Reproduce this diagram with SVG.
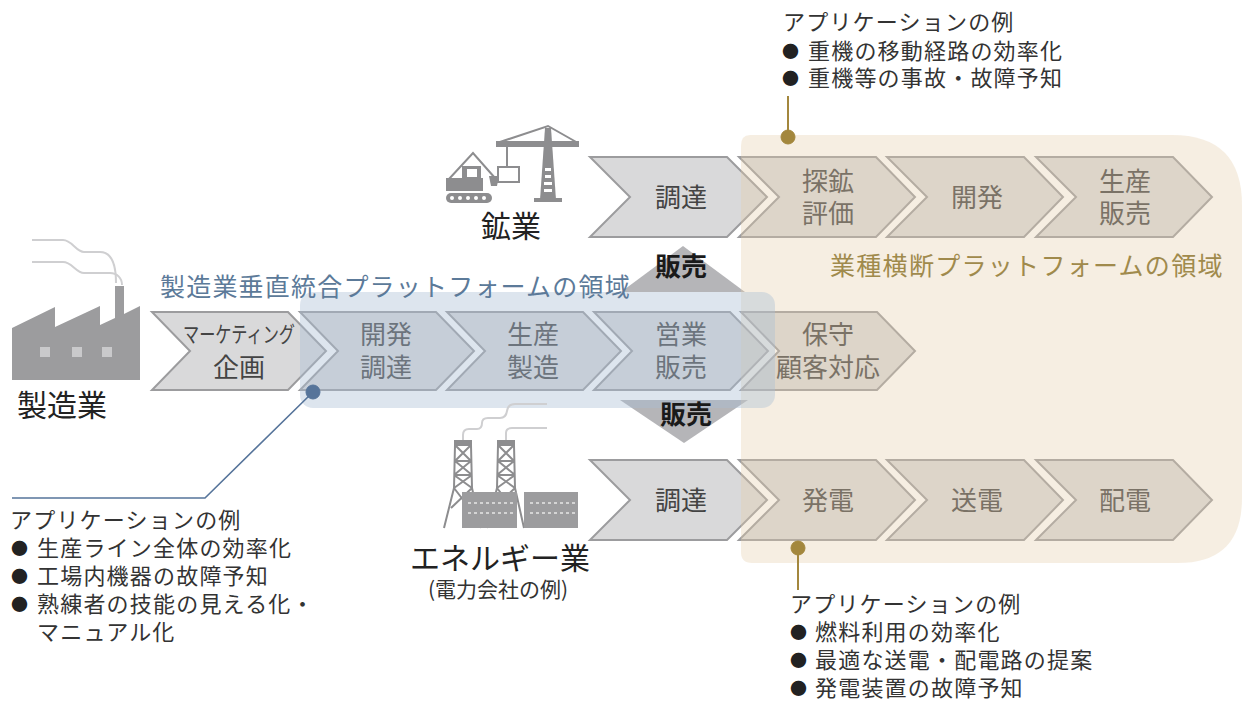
<svg xmlns="http://www.w3.org/2000/svg" width="1242" height="702" viewBox="0 0 1242 702">
  <style>
    text { font-family: "Noto Sans CJK JP", "Noto Sans", sans-serif; }
    .chev { fill: #d9d9da; stroke: #9c9c9e; stroke-width: 2; stroke-linejoin: miter; }
    .lbl { font-size: 26px; fill: #444; text-anchor: middle; }
    .ind { font-size: 30px; fill: #222; }
    .ann { font-size: 22px; fill: #333; letter-spacing: 1.2px; }
    .dot { font-size: 17px; fill: #222; }
    .sale { font-size: 26px; font-weight: 700; fill: #1a1a1a; text-anchor: middle; }
    .tri { fill: #b5b5b8; }
    .icon { fill: #8d8d8f; }
    .iconline { fill: none; stroke: #8d8d8f; stroke-width: 2; }
    .smoke { fill: none; stroke: #cfcfd1; stroke-width: 2; }
    .gold { stroke: #a3873d; fill: #a3873d; }
    .blue { stroke: #56749a; fill: #56749a; }
  </style>

  <!-- 販売 arrows between the middle value chain and the other industries -->
  <g id="sale-up">
    <polygon class="tri" points="683,246 745,292 621,292"/>
  </g>
  <g id="sale-down">
    <polygon class="tri" points="620,400 748,400 684,443"/>
  </g>

  <!-- mining value chain -->
  <g id="mine-1"><polygon class="chev" points="590,157 727,157 767,197 727,237 590,237 630,197"/><text class="lbl" x="681" y="207">調達</text></g>
  <g id="mine-2"><polygon class="chev" points="739,157 876,157 915,197 876,237 739,237 779,197"/><text class="lbl" x="828" y="191">探鉱</text><text class="lbl" x="828" y="223">評価</text></g>
  <g id="mine-3"><polygon class="chev" points="887,157 1024,157 1063,197 1024,237 887,237 927,197"/><text class="lbl" x="977" y="207">開発</text></g>
  <g id="mine-4"><polygon class="chev" points="1036,157 1173,157 1212,197 1173,237 1036,237 1076,197"/><text class="lbl" x="1125" y="191">生産</text><text class="lbl" x="1125" y="223">販売</text></g>

  <!-- manufacturing value chain -->
  <g id="mfg-1"><polygon class="chev" points="152,312 288,312 326,351 288,390 152,390 190,351"/>
    <text class="lbl" x="239" y="342" textLength="112" lengthAdjust="spacingAndGlyphs" style="font-size:22px">マーケティング</text>
    <text class="lbl" x="239" y="377">企画</text></g>
  <g id="mfg-2"><polygon class="chev" points="300,312 436,312 474,351 436,390 300,390 338,351"/><text class="lbl" x="386" y="344">開発</text><text class="lbl" x="386" y="377">調達</text></g>
  <g id="mfg-3"><polygon class="chev" points="447,312 583,312 621,351 583,390 447,390 485,351"/><text class="lbl" x="533" y="344">生産</text><text class="lbl" x="533" y="377">製造</text></g>
  <g id="mfg-4"><polygon class="chev" points="594,312 730,312 768,351 730,390 594,390 632,351"/><text class="lbl" x="681" y="344">営業</text><text class="lbl" x="681" y="377">販売</text></g>
  <g id="mfg-5"><polygon class="chev" points="741,312 877,312 915,351 877,390 741,390 779,351"/><text class="lbl" x="828" y="344">保守</text><text class="lbl" x="828" y="377">顧客対応</text></g>

  <!-- energy value chain -->
  <g id="energy-1"><polygon class="chev" points="590,460 727,460 767,500 727,540 590,540 630,500"/><text class="lbl" x="681" y="510">調達</text></g>
  <g id="energy-2"><polygon class="chev" points="739,460 876,460 915,500 876,540 739,540 779,500"/><text class="lbl" x="828" y="510">発電</text></g>
  <g id="energy-3"><polygon class="chev" points="887,460 1024,460 1063,500 1024,540 887,540 927,500"/><text class="lbl" x="977" y="510">送電</text></g>
  <g id="energy-4"><polygon class="chev" points="1036,460 1173,460 1212,500 1173,540 1036,540 1076,500"/><text class="lbl" x="1125" y="510">配電</text></g>

  <!-- cross-industry platform area (translucent) -->
  <g id="cross-industry-area">
    <path d="M750,135 H1172 Q1242,135 1242,205 V498 Q1242,563 1178,563 H752 Q741,563 741,552 V146 Q741,135 750,135 Z" fill="rgb(228,205,170)" fill-opacity="0.34"/>
    <text x="830" y="275" style="font-size:25px; fill:#a08a4c; letter-spacing:1.3px">業種横断プラットフォームの領域</text>
  </g>

  <!-- manufacturing vertical platform area (translucent) -->
  <g id="vertical-area">
    <rect x="300" y="292" width="475" height="116" rx="13" fill="rgb(170,190,212)" fill-opacity="0.4"/>
    <text x="160" y="296" style="font-size:25px; fill:#5c7a99; letter-spacing:1.2px">製造業垂直統合プラットフォームの領域</text>
  </g>

  <g id="sale-labels">
    <text class="sale" x="681" y="276">販売</text>
    <text class="sale" x="686" y="424">販売</text>
  </g>

  <!-- mining icon -->
  <g id="mining">
    <!-- crane -->
    <polygon class="icon" points="540,200 556,200 551,128 545,128"/>
    <rect x="545" y="168" width="6" height="3" fill="#fff"/>
    <rect x="545" y="175" width="6" height="3" fill="#fff"/>
    <rect x="544" y="182" width="8" height="3" fill="#fff"/>
    <rect x="544" y="189" width="8" height="3" fill="#fff"/>
    <rect x="534" y="198" width="28" height="4" class="icon"/>
    <path d="M497,143 L548,126 L578,143" class="iconline" stroke-width="3"/>
    <rect x="496" y="141" width="83" height="6" class="icon"/>
    <line x1="507" y1="147" x2="507" y2="167" class="iconline"/>
    <rect x="498" y="167" width="21" height="15" fill="#fff" class="iconline" stroke-width="3"/>
    <!-- excavator -->
    <path d="M449,179 L473,153 L495,178" class="iconline" stroke-width="3.5"/>
    <path d="M489,176 H499 L497,186 H491 Z" class="icon"/>
    <rect x="446" y="178" width="37" height="13" class="icon"/>
    <rect x="462" y="166" width="19" height="13" class="icon"/>
    <rect x="467" y="169" width="10" height="8" fill="#fff"/>
    <rect x="446" y="193" width="46" height="10" rx="5" class="icon"/>
    <g fill="#fff"><circle cx="452" cy="198" r="2"/><circle cx="460" cy="198" r="2"/><circle cx="468" cy="198" r="2"/><circle cx="476" cy="198" r="2"/><circle cx="484" cy="198" r="2"/></g>
    <text class="ind" x="511" y="237" text-anchor="middle">鉱業</text>
  </g>

  <!-- factory icon -->
  <g id="manufacturing">
    <path class="smoke" d="M32,240 H63 C72,240 76,252 84,252 H100 C110,252 116,262 116,283"/>
    <path class="smoke" d="M32,262 H63 C72,262 76,273 84,273 H110 C117,273 122,278 122,285"/>
    <path d="M12,328 L55,307 V327 L100,306 V325 L115,318 V286 H124 V314 L140,306 V380 H12 Z" fill="#9c9c9e"/>
    <g fill="#c9c9cb"><rect x="40" y="347" width="10" height="10"/><rect x="72" y="347" width="10" height="10"/><rect x="102" y="347" width="10" height="10"/></g>
    <text class="ind" x="17" y="416">製造業</text>
  </g>

  <!-- power plant icon -->
  <g id="energy">
    <path class="smoke" d="M463,441 V435 Q463,429 469,429 H477 Q482,429 482,423 Q482,418 488,418 H500 Q506,418 507,411 Q508,404 515,404 H547"/>
    <path class="smoke" d="M506,441 V433 Q506,428 512,428 H547"/>
    <g class="iconline" transform="translate(463,0)">
      <rect x="-8" y="441" width="16" height="4" fill="#8d8d8f"/>
      <path d="M-8,445 L-9,488 M8,445 L9,488 M-8,461 H8 M-9,475 H9 M-8,445 L8,461 M8,445 L-8,461 M-8,461 L9,475 M8,461 L-9,475 M-9,475 L9,488 M9,475 L-9,488 M-9,488 L-19,528 M9,488 L18,528 M-9,488 L8,510 M9,488 L-12,508"/>
    </g>
    <g class="iconline" transform="translate(506,0)">
      <rect x="-8" y="441" width="16" height="4" fill="#8d8d8f"/>
      <path d="M-8,445 L-9,488 M8,445 L9,488 M-8,461 H8 M-9,475 H9 M-8,445 L8,461 M8,445 L-8,461 M-8,461 L9,475 M8,461 L-9,475 M-9,475 L9,488 M9,475 L-9,488 M-9,488 L-19,528 M9,488 L18,528 M-9,488 L8,510 M9,488 L-12,508"/>
    </g>
    <rect x="462" y="492" width="55" height="36" fill="#9c9c9e"/>
    <rect x="524" y="492" width="54" height="36" fill="#9c9c9e"/>
    <g stroke="#e6e6e6" stroke-width="1.5" stroke-dasharray="3,3">
      <line x1="468" y1="503" x2="514" y2="503"/><line x1="468" y1="513" x2="514" y2="513"/>
      <line x1="530" y1="503" x2="576" y2="503"/><line x1="530" y1="513" x2="576" y2="513"/>
    </g>
    <text class="ind" x="500" y="569" text-anchor="middle">エネルギー業</text>
    <text x="498" y="597" text-anchor="middle" style="font-size:21px; fill:#333">(電力会社の例)</text>
  </g>

  <!-- callout leaders -->
  <g id="connectors">
    <path d="M313,392 L205,498 H12" fill="none" stroke="#56749a" stroke-width="1.6"/>
    <circle cx="313" cy="392" r="7" class="blue"/>
    <line x1="788" y1="96" x2="788" y2="137" stroke="#a3873d" stroke-width="2"/>
    <circle cx="788" cy="137" r="7" class="gold"/>
    <line x1="798" y1="548" x2="798" y2="590" stroke="#a3873d" stroke-width="2"/>
    <circle cx="798" cy="548" r="7" class="gold"/>
  </g>

  <!-- application examples -->
  <g id="apps-mining">
    <text class="ann" x="783" y="30">アプリケーションの例</text>
    <text class="dot" x="782" y="58">●</text><text class="ann" x="808" y="59">重機の移動経路の効率化</text>
    <text class="dot" x="782" y="85">●</text><text class="ann" x="808" y="86">重機等の事故・故障予知</text>
  </g>
  <g id="apps-manufacturing">
    <text class="ann" x="10" y="528">アプリケーションの例</text>
    <text class="dot" x="11" y="555">●</text><text class="ann" x="37" y="556">生産ライン全体の効率化</text>
    <text class="dot" x="11" y="583">●</text><text class="ann" x="37" y="584">工場内機器の故障予知</text>
    <text class="dot" x="11" y="611">●</text><text class="ann" x="37" y="612">熟練者の技能の見える化・</text>
    <text class="ann" x="37" y="640">マニュアル化</text>
  </g>
  <g id="apps-energy">
    <text class="ann" x="790" y="612">アプリケーションの例</text>
    <text class="dot" x="790" y="639">●</text><text class="ann" x="815" y="640">燃料利用の効率化</text>
    <text class="dot" x="790" y="667">●</text><text class="ann" x="815" y="668">最適な送電・配電路の提案</text>
    <text class="dot" x="790" y="695">●</text><text class="ann" x="815" y="696">発電装置の故障予知</text>
  </g>
</svg>
